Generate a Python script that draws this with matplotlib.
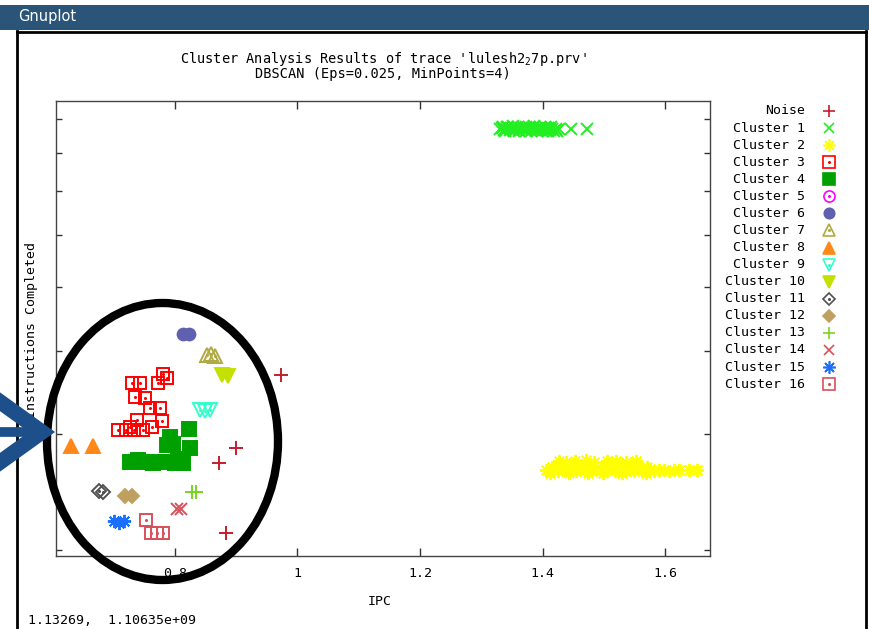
import matplotlib
matplotlib.use("Agg")
import matplotlib.pyplot as plt
from matplotlib.patches import Ellipse, Rectangle
from matplotlib.lines import Line2D
import numpy as np

# --- data (IPC vs instructions completed, y in units of 1e8) ---
noise_x = [0.973, 0.900, 0.872, 0.883]
noise_y = [3.68, 2.85, 2.71, 2.12]

c1_x = [1.330, 1.333, 1.337, 1.340, 1.342, 1.346, 1.349, 1.352, 1.355, 1.357,
        1.361, 1.364, 1.366, 1.370, 1.373, 1.375, 1.379, 1.382, 1.385, 1.388,
        1.391, 1.393, 1.397, 1.400, 1.403, 1.406, 1.409, 1.412, 1.416, 1.421,
        1.427, 1.447, 1.473,
        1.335, 1.344, 1.351, 1.359, 1.368, 1.377, 1.386, 1.395, 1.404, 1.413,
        1.339, 1.353, 1.362, 1.372, 1.381, 1.390, 1.399, 1.408, 1.418, 1.424]
c1_y = [8.69, 8.72, 8.66, 8.70, 8.74, 8.67, 8.71, 8.65, 8.73, 8.69,
        8.66, 8.72, 8.70, 8.68, 8.74, 8.65, 8.71, 8.69, 8.73, 8.66,
        8.70, 8.68, 8.72, 8.69, 8.65, 8.71, 8.73, 8.67, 8.70, 8.68,
        8.70, 8.69, 8.69,
        8.76, 8.75, 8.77, 8.75, 8.76, 8.75, 8.77, 8.76, 8.75, 8.76,
        8.63, 8.62, 8.63, 8.62, 8.63, 8.62, 8.63, 8.62, 8.63, 8.64]

c2_x = [1.406, 1.412, 1.419, 1.425, 1.431, 1.436, 1.443, 1.449, 1.455, 1.461,
        1.468, 1.474, 1.480, 1.486, 1.493, 1.499, 1.505, 1.512, 1.518, 1.524,
        1.530, 1.537, 1.543, 1.549, 1.556, 1.562, 1.569, 1.575, 1.582, 1.590,
        1.598, 1.606, 1.614, 1.622, 1.638, 1.652,
        1.427, 1.438, 1.452, 1.471, 1.484, 1.505, 1.520, 1.536, 1.553,
        1.415, 1.428, 1.440, 1.458, 1.477, 1.496, 1.515, 1.533, 1.552, 1.571]
c2_y = [2.64, 2.62, 2.65, 2.63, 2.66, 2.64, 2.62, 2.65, 2.63, 2.64,
        2.66, 2.62, 2.64, 2.65, 2.63, 2.62, 2.64, 2.66, 2.63, 2.64,
        2.62, 2.65, 2.64, 2.63, 2.66, 2.64, 2.62, 2.65, 2.63, 2.64,
        2.64, 2.63, 2.64, 2.64, 2.64, 2.64,
        2.73, 2.72, 2.73, 2.74, 2.72, 2.73, 2.73, 2.72, 2.73,
        2.67, 2.68, 2.67, 2.68, 2.67, 2.68, 2.67, 2.68, 2.67, 2.67]

c3_x = [0.780, 0.787, 0.772, 0.730, 0.743, 0.735, 0.751, 0.759, 0.776, 0.779,
        0.762, 0.738, 0.707, 0.720, 0.733, 0.748, 0.727]
c3_y = [3.70, 3.65, 3.58, 3.58, 3.58, 3.41, 3.40, 3.28, 3.28, 3.14,
        3.07, 3.15, 3.04, 3.04, 3.04, 3.04, 3.07]

c4_x = [0.823, 0.792, 0.787, 0.797, 0.824, 0.727, 0.740, 0.753, 0.764, 0.776,
        0.787, 0.805, 0.813, 0.800]
c4_y = [3.05, 2.97, 2.88, 2.89, 2.85, 2.72, 2.74, 2.72, 2.71, 2.72,
        2.72, 2.75, 2.71, 2.71]

c5_x, c5_y = [], []
c6_x, c6_y = [0.813, 0.823], [4.25, 4.25]
c7_x, c7_y = [0.852, 0.859, 0.865], [3.95, 3.96, 3.94]
c8_x, c8_y = [0.630, 0.666], [2.87, 2.87]
c9_x, c9_y = [0.841, 0.849, 0.857], [3.26, 3.25, 3.26]
c10_x, c10_y = [0.877, 0.887], [3.68, 3.67]
c11_x, c11_y = [0.676, 0.682], [2.46, 2.45]
c12_x, c12_y = [0.718, 0.730], [2.41, 2.41]
c13_x, c13_y = [0.828, 0.834], [2.45, 2.45]
c14_x, c14_y = [0.804, 0.810], [2.31, 2.31]
c15_x, c15_y = [0.700, 0.709, 0.717], [2.21, 2.20, 2.21]
c16_x, c16_y = [0.753, 0.761, 0.771, 0.780], [2.22, 2.12, 2.12, 2.12]

labels = ["Noise"] + ["Cluster %d" % i for i in range(1, 17)]
xs = [noise_x, c1_x, c2_x, c3_x, c4_x, c5_x, c6_x, c7_x, c8_x, c9_x,
      c10_x, c11_x, c12_x, c13_x, c14_x, c15_x, c16_x]
ys = [noise_y, c1_y, c2_y, c3_y, c4_y, c5_y, c6_y, c7_y, c8_y, c9_y,
      c10_y, c11_y, c12_y, c13_y, c14_y, c15_y, c16_y]

x_ticks = [0.8, 1.0, 1.2, 1.4, 1.6]
x_ticklabels = ["0.8", "1", "1.2", "1.4", "1.6"]
y_ticks = [2, 3, 4, 5, 6, 7, 8, 9]
yscale = 1e8

# marker, colour, size in plot, size in key, filled, centre dot
star = (8, 2, 0)
styles = [
    ("+", "#c41e2e", 9.5, 9, True, False),
    ("x", "#22ee22", 8, 7.5, True, False),
    (star, "#ffff00", 9.5, 9, True, False),
    ("s", "#ff0000", 9, 8, False, True),
    ("s", "#00a000", 9.5, 8, True, False),
    ("o", "#ff00ff", 8, 8, False, True),
    ("o", "#6060b0", 8.5, 7.5, True, False),
    ("^", "#b0aa40", 10.5, 9, False, True),
    ("^", "#ff8818", 10, 9, True, False),
    ("v", "#33ffcc", 10.5, 9, False, True),
    ("v", "#c4e000", 10.5, 9, True, False),
    ("D", "#505050", 7, 6.5, False, True),
    ("D", "#c0a060", 7, 6.5, True, False),
    ("+", "#77d620", 9.5, 9, True, False),
    ("x", "#d8505a", 8, 7.5, True, False),
    (star, "#1a6fff", 9.5, 9, True, False),
    ("s", "#d8505a", 9, 8, False, True),
]

W, H = 869, 629
def fx(px):
    return px / W
def fy(py):
    return 1 - py / H

mono = "DejaVu Sans Mono"
plt.rcParams["font.family"] = mono
plt.rcParams["font.size"] = 9.5

fig = plt.figure(figsize=(W / 100, H / 100), dpi=100)

# window chrome
fig.add_artist(Rectangle((0, fy(30)), 1, fy(5) - fy(30), transform=fig.transFigure,
                         facecolor="#2b5578", edgecolor="none"))
fig.text(fx(18), fy(17), "Gnuplot", color="white", family="DejaVu Sans",
         fontsize=10.5, va="center")
fig.add_artist(Line2D([fx(17), fx(17)], [fy(31), 0], color="black", lw=2,
                      transform=fig.transFigure))
fig.add_artist(Line2D([fx(866), fx(866)], [fy(31), 0], color="black", lw=2,
                      transform=fig.transFigure))
fig.add_artist(Line2D([fx(17), fx(866)], [fy(32), fy(32)], color="black", lw=2,
                      transform=fig.transFigure))

ax = fig.add_axes([fx(56), fy(556), fx(710) - fx(56), fy(101) - fy(556)])

for (x, y), lab, (m, c, s, ks, filled, dot) in zip(zip(xs, ys), labels, styles):
    y = np.array(y) * yscale
    if filled:
        ax.plot(x, y, linestyle="none", marker=m, color=c, markersize=s,
                markeredgewidth=1.4, label=lab)
    else:
        ax.plot(x, y, linestyle="none", marker=m, markerfacecolor="none",
                markeredgecolor=c, markersize=s, markeredgewidth=1.4, label=lab)
    if dot:
        ax.plot(x, y, linestyle="none", marker="o", color=c, markersize=1.2)

ax.set_yscale("log")
ax.set_xlim(0.606, 1.673)
ax.set_ylim(1.958 * yscale, 9.58 * yscale)
ax.set_xticks(x_ticks)
ax.set_xticklabels(x_ticklabels)
ax.set_yticks([v * yscale for v in y_ticks])
ax.set_yticklabels([])
ax.yaxis.set_minor_locator(matplotlib.ticker.NullLocator())
ax.tick_params(axis="x", direction="in", length=6, width=1, top=True,
               pad=8, colors="#333333", labelcolor="black")
ax.tick_params(axis="y", direction="in", length=4, width=1, right=True,
               colors="#333333")
for sp in ax.spines.values():
    sp.set_color("#444444")
    sp.set_linewidth(1)

ax.set_xlabel("IPC")
ax.xaxis.set_label_coords(0.495, -0.085)
ax.set_ylabel("Instructions Completed")
ax.yaxis.set_label_coords(-0.028, 0.497)

fig.text(fx(383), fy(59), "Cluster Analysis Results of trace 'lulesh2$\\mathregular{_2}$7p.prv'",
         ha="center", va="center", fontsize=9.8)
fig.text(fx(383), fy(74), "DBSCAN (Eps=0.025, MinPoints=4)", ha="center", va="center",
         fontsize=9.8)

# key, right aligned text with symbol on the right
for i, (lab, (m, c, s, ks, filled, dot)) in enumerate(zip(labels, styles)):
    yy = fy(111 + i * 17.07)
    fig.text(fx(805), yy, lab, ha="right", va="center")
    kw = dict(marker=m, markersize=ks, markeredgewidth=1.2, linestyle="none",
              transform=fig.transFigure)
    if filled:
        fig.add_artist(Line2D([fx(829)], [yy], color=c, **kw))
    else:
        fig.add_artist(Line2D([fx(829)], [yy], markerfacecolor="none",
                              markeredgecolor=c, **kw))
    if dot:
        fig.add_artist(Line2D([fx(829)], [yy], marker="o", color=c, markersize=1.2,
                              transform=fig.transFigure))

fig.text(fx(28), fy(621), "1.13269,  1.10635e+09", va="center")

# hand-drawn highlight: ellipse and arrow
fig.add_artist(Ellipse((fx(162.5), fy(441.5)), fx(231), 277 / H,
                       transform=fig.transFigure, fill=False, edgecolor="black", lw=6))
blue = "#1d4f8a"
fig.add_artist(Line2D([fx(-8), fx(42), fx(-8)], [fy(396), fy(432), fy(468)],
                      color=blue, lw=11, solid_joinstyle="miter",
                      transform=fig.transFigure))
fig.add_artist(Line2D([fx(-5), fx(30)], [fy(432), fy(432)], color=blue, lw=7,
                      transform=fig.transFigure))

fig.savefig("out.png", dpi=100)
